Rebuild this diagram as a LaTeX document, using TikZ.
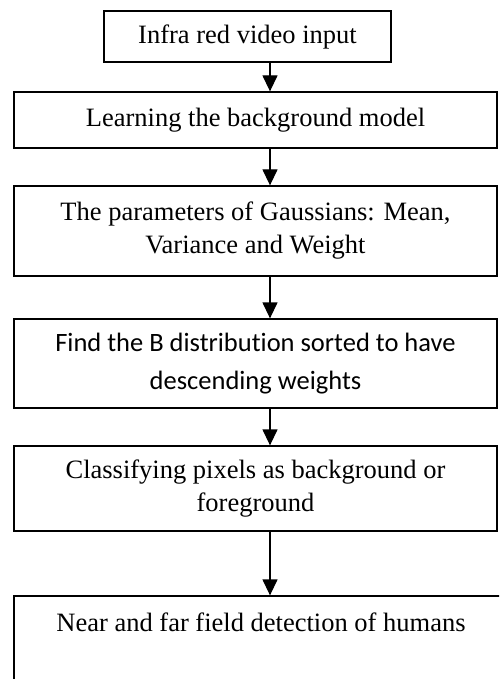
\documentclass[tikz,border=0pt]{standalone}
\usepackage{fontspec}
\setmainfont{Liberation Serif}
\newfontfamily\calibrifont[Ligatures=NoCommon]{Carlito}
\usetikzlibrary{arrows.meta}

\begin{document}
\begin{tikzpicture}[x=1pt,y=-1pt,
        stage/.style={draw, line width=1.3pt, inner sep=0pt, align=center,
            font=\fontsize{26.5}{33}\selectfont},
        flow/.style={line width=1.3pt, -{Triangle[length=16pt,width=15pt]}}]
            \useasboundingbox (0,0) rectangle (499,679);
            \clip (0,0) rectangle (499,679);
            \coordinate (axis) at (270,0);
            \node[stage, minimum width=287pt, minimum height=51pt] (input) at (247.5,36.5) {Infra red video input};
            \node[stage, minimum width=483pt, minimum height=56pt] (learn) at (255.5,120) {Learning the background model};
            \node[stage, minimum width=483pt, minimum height=90pt] (param) at (255.5,231) {The parameters of Gaussians: Mean,\\Variance and Weight};
            \node[stage, minimum width=483pt, minimum height=89pt, font=\calibrifont\fontsize{26.5}{38}\selectfont] (sortB) at (255.5,363.5) {Find the B distribution sorted to have\\descending weights};
            \node[stage, minimum width=483pt, minimum height=85pt] (classify) at (255.5,488.5) {Classifying pixels as background or\\foreground};
            \node[stage, minimum width=494pt, minimum height=85pt] (detect) at (261,638.5) {Near and far field detection of humans\\\mbox{}};
            \draw[flow] (input.south -| axis) -- (learn.north -| axis);
            \draw[flow] (learn.south -| axis) -- (param.north -| axis);
            \draw[flow] (param.south -| axis) -- (sortB.north -| axis);
            \draw[flow] (sortB.south -| axis) -- (classify.north -| axis);
            \draw[flow] (classify.south -| axis) -- (detect.north -| axis);
        \end{tikzpicture}
\end{document}
